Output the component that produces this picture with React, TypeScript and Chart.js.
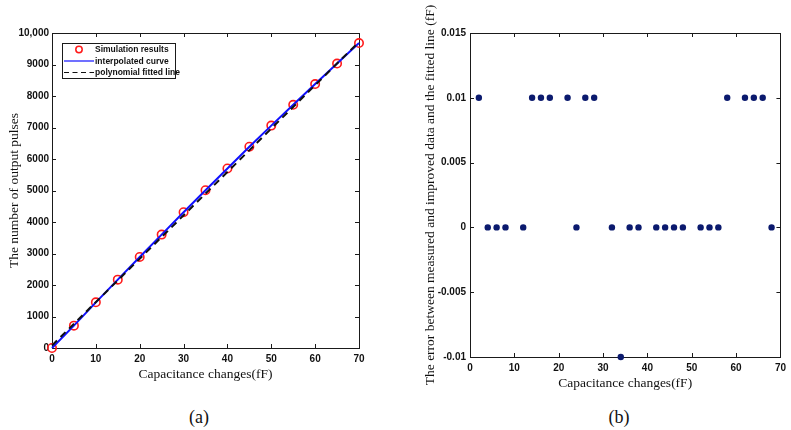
import React, { useEffect, useRef } from "react";
import { Chart, registerables } from "chart.js";

Chart.register(...registerables);

// ---------- Data: chart (a) ----------
const capacitanceA = [0, 5, 10, 15, 20, 25, 30, 35, 40, 45, 50, 55, 60, 65, 70];
const simulationPulses = [0, 710, 1450, 2170, 2890, 3600, 4310, 5010, 5700, 6390, 7060, 7720, 8380, 9030, 9680];
const fittedX = [0, 70];
const fittedPulses = [80, 9720];
const xTicksA = [0, 10, 20, 30, 40, 50, 60, 70];
const yTicksA = [0, 1000, 2000, 3000, 4000, 5000, 6000, 7000, 8000, 9000, 10000];
const yLabelsA = ["0", "1000", "2000", "3000", "4000", "5000", "6000", "7000", "8000", "9000", "10,000"];
const legendLabelsA = ["Simulation results", "interpolated curve", "polynomial fitted line"];

// ---------- Data: chart (b) ----------
const capacitanceB = [2, 4, 6, 8, 12, 14, 16, 18, 22, 24, 26, 28, 32, 34, 36, 38, 42, 44, 46, 48, 52, 54, 56, 58, 62, 64, 66, 68];
const errorB = [0.01, 0, 0, 0, 0, 0.01, 0.01, 0.01, 0.01, 0, 0.01, 0.01, 0, -0.01, 0, 0, 0, 0, 0, 0, 0, 0, 0, 0.01, 0.01, 0.01, 0.01, 0];
const xTicksB = [0, 10, 20, 30, 40, 50, 60, 70];
const yTicksB = [-0.01, -0.005, 0, 0.005, 0.01, 0.015];
const yLabelsB = ["-0.01", "-0.005", "0", "0.005", "0.01", "0.015"];

const SANS = '"Liberation Sans", Arial, sans-serif';
const SERIF = '"Liberation Serif", "Times New Roman", serif';
const TICK_FONT = { family: SANS, size: 10, weight: "bold" as const };
const TITLE_FONT = { family: SERIF, size: 13.5 };

const boxTicksPlugin = {
  id: "boxTicks",
  beforeDatasetsDraw(chart: any) {
    const { ctx, chartArea: a, scales } = chart;
    ctx.save();
    ctx.strokeStyle = "#1a1a1a";
    ctx.lineWidth = 1;
    ctx.strokeRect(Math.round(a.left) + 0.5, Math.round(a.top) + 0.5, Math.round(a.width), Math.round(a.height));
    const L = 4;
    ctx.beginPath();
    for (const t of scales.x.ticks) {
      const px = Math.round(scales.x.getPixelForValue(t.value)) + 0.5;
      ctx.moveTo(px, a.bottom);
      ctx.lineTo(px, a.bottom - L);
      ctx.moveTo(px, a.top);
      ctx.lineTo(px, a.top + L);
    }
    for (const t of scales.y.ticks) {
      const py = Math.round(scales.y.getPixelForValue(t.value)) + 0.5;
      ctx.moveTo(a.left, py);
      ctx.lineTo(a.left + L, py);
      ctx.moveTo(a.right, py);
      ctx.lineTo(a.right - L, py);
    }
    ctx.stroke();
    ctx.restore();
  },
};

const yTitlePlugin = {
  id: "yTitle",
  afterDraw(chart: any, _args: any, opts: any) {
    const { ctx, chartArea: a } = chart;
    ctx.save();
    ctx.translate(opts.x, (a.top + a.bottom) / 2);
    ctx.rotate(-Math.PI / 2);
    ctx.font = `${TITLE_FONT.size}px ${SERIF}`;
    ctx.fillStyle = "#111";
    ctx.textAlign = "center";
    ctx.textBaseline = "middle";
    ctx.fillText(opts.text, 0, 0);
    ctx.restore();
  },
};

const legendPlugin = {
  id: "boxLegend",
  afterDraw(chart: any) {
    const { ctx, chartArea: a } = chart;
    const x0 = a.left + 10;
    const y0 = a.top + 10;
    const w = 113;
    const h = 35;
    ctx.save();
    ctx.fillStyle = "#fff";
    ctx.fillRect(x0, y0, w, h);
    ctx.strokeStyle = "#1a1a1a";
    ctx.lineWidth = 1;
    ctx.strokeRect(x0 + 0.5, y0 + 0.5, w, h);
    const rows = [y0 + 6.5, y0 + 18, y0 + 29.5];
    ctx.strokeStyle = "#ff1a1a";
    ctx.lineWidth = 1.5;
    ctx.beginPath();
    ctx.arc(x0 + 17, rows[0], 3.2, 0, Math.PI * 2);
    ctx.stroke();
    ctx.strokeStyle = "#1010ff";
    ctx.lineWidth = 1.2;
    ctx.beginPath();
    ctx.moveTo(x0 + 2, rows[1]);
    ctx.lineTo(x0 + 32, rows[1]);
    ctx.stroke();
    ctx.strokeStyle = "#111";
    ctx.setLineDash([5, 3.5]);
    ctx.beginPath();
    ctx.moveTo(x0 + 2, rows[2]);
    ctx.lineTo(x0 + 32, rows[2]);
    ctx.stroke();
    ctx.setLineDash([]);
    ctx.fillStyle = "#111";
    ctx.font = `bold 8.5px ${SANS}`;
    ctx.textBaseline = "middle";
    ctx.textAlign = "left";
    legendLabelsA.forEach((t, i) => ctx.fillText(t, x0 + 33, rows[i] + 0.5));
    ctx.restore();
  },
};

const hiddenGrid = { display: false, drawTicks: false };

function ChartA() {
  const ref = useRef<HTMLCanvasElement>(null);
  useEffect(() => {
    if (!ref.current) return;
    const chart = new Chart(ref.current, {
      type: "line",
      data: {
        datasets: [
          {
            label: legendLabelsA[2],
            data: fittedX.map((x, i) => ({ x, y: fittedPulses[i] })),
            borderColor: "#111",
            borderWidth: 2,
            borderDash: [7, 5],
            pointRadius: 0,
            order: 0,
          },
          {
            label: legendLabelsA[1],
            data: capacitanceA.map((x, i) => ({ x, y: simulationPulses[i] })),
            borderColor: "#1010ff",
            borderWidth: 2,
            pointRadius: 0,
            order: 1,
          },
          {
            label: legendLabelsA[0],
            data: capacitanceA.map((x, i) => ({ x, y: simulationPulses[i] })),
            showLine: false,
            pointRadius: 4.2,
            pointBorderWidth: 1.6,
            pointBorderColor: "#ff1a1a",
            pointBackgroundColor: "rgba(0,0,0,0)",
            order: 2,
          },
        ],
      },
      options: {
        animation: false,
        responsive: false,
        clip: false as any,
        layout: { padding: { left: 0, right: 41, top: 33, bottom: 0 } },
        plugins: {
          legend: { display: false },
          tooltip: { enabled: false },
          yTitle: { text: "The number of output pulses", x: 14 },
        } as any,
        scales: {
          x: {
            type: "linear",
            min: 0,
            max: 70,
            grid: hiddenGrid,
            border: { display: false },
            afterBuildTicks: (s: any) => {
              s.ticks = xTicksA.map((v) => ({ value: v }));
            },
            afterFit: (s: any) => {
              s.height = 42;
            },
            ticks: { font: TICK_FONT, color: "#111", padding: 5, maxRotation: 0, autoSkip: false },
            title: {
              display: true,
              text: "Capacitance changes(fF)",
              font: TITLE_FONT,
              color: "#111",
              padding: { top: 0, bottom: 7 },
            },
          },
          y: {
            type: "linear",
            min: 0,
            max: 10000,
            grid: hiddenGrid,
            border: { display: false },
            afterBuildTicks: (s: any) => {
              s.ticks = yTicksA.map((v) => ({ value: v }));
            },
            afterFit: (s: any) => {
              s.width = 52;
            },
            ticks: {
              font: TICK_FONT,
              color: "#111",
              padding: 3,
              autoSkip: false,
              callback: (_v: any, i: number) => yLabelsA[i],
            },
          },
        },
      },
      plugins: [boxTicksPlugin, yTitlePlugin, legendPlugin],
    });
    return () => chart.destroy();
  }, []);
  return <canvas ref={ref} width={400} height={390} style={{ position: "absolute", left: 0, top: 0 }} />;
}

function ChartB() {
  const ref = useRef<HTMLCanvasElement>(null);
  useEffect(() => {
    if (!ref.current) return;
    const chart = new Chart(ref.current, {
      type: "scatter",
      data: {
        datasets: [
          {
            label: "error",
            data: capacitanceB.map((x, i) => ({ x, y: errorB[i] })),
            pointRadius: 3.2,
            pointBorderWidth: 0,
            pointBackgroundColor: "#0b1a6e",
            pointBorderColor: "#0b1a6e",
            clip: false as any,
          },
        ],
      },
      options: {
        animation: false,
        responsive: false,
        layout: { padding: { left: 0, right: 10, top: 33, bottom: 0 } },
        plugins: {
          legend: { display: false },
          tooltip: { enabled: false },
          yTitle: {
            text: "The error between measured and improved data and the fitted line (fF)",
            x: 30,
          },
        } as any,
        scales: {
          x: {
            type: "linear",
            min: 0,
            max: 70,
            grid: hiddenGrid,
            border: { display: false },
            afterBuildTicks: (s: any) => {
              s.ticks = xTicksB.map((v) => ({ value: v }));
            },
            afterFit: (s: any) => {
              s.height = 43;
            },
            ticks: { font: TICK_FONT, color: "#111", padding: 5, maxRotation: 0, autoSkip: false },
            title: {
              display: true,
              text: "Capacitance changes(fF)",
              font: TITLE_FONT,
              color: "#111",
              padding: { top: 0, bottom: 8 },
            },
          },
          y: {
            type: "linear",
            min: -0.01,
            max: 0.015,
            grid: hiddenGrid,
            border: { display: false },
            afterBuildTicks: (s: any) => {
              s.ticks = yTicksB.map((v) => ({ value: v }));
            },
            afterFit: (s: any) => {
              s.width = 70;
            },
            ticks: {
              font: TICK_FONT,
              color: "#111",
              padding: 4,
              autoSkip: false,
              callback: (_v: any, i: number) => yLabelsB[i],
            },
          },
        },
      },
      plugins: [boxTicksPlugin, yTitlePlugin],
    });
    return () => chart.destroy();
  }, []);
  return <canvas ref={ref} width={391} height={400} style={{ position: "absolute", left: 400, top: 0 }} />;
}

const captionStyle: React.CSSProperties = {
  position: "absolute",
  width: 40,
  textAlign: "center",
  fontFamily: SERIF,
  fontSize: 18,
  lineHeight: "20px",
  color: "#111",
};

export default function App() {
  return (
    <div style={{ position: "absolute", left: 0, top: 0, width: 791, height: 430, background: "#fff", overflow: "hidden" }}>
      <ChartA />
      <ChartB />
      <div style={{ ...captionStyle, left: 179, top: 407 }}>(a)</div>
      <div style={{ ...captionStyle, left: 599, top: 407 }}>(b)</div>
    </div>
  );
}
